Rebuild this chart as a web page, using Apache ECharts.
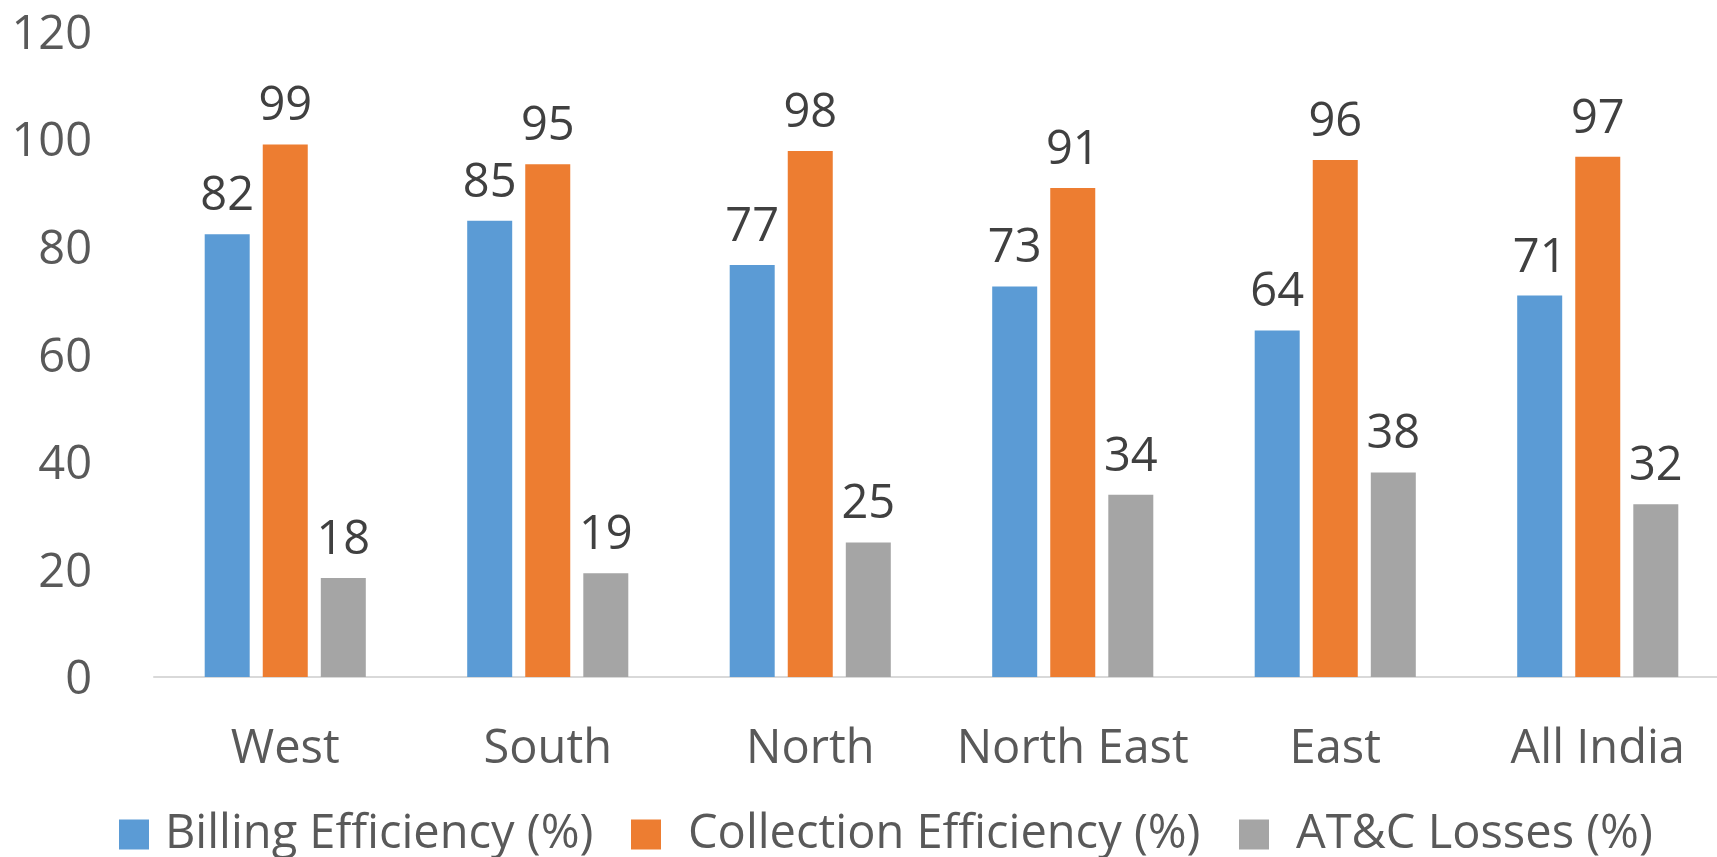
<!DOCTYPE html>
<html>
<head>
<meta charset="utf-8">
<script src="https://cdn.jsdelivr.net/npm/echarts@6/dist/echarts.min.js"></script>
<style>html,body{margin:0;padding:0;background:#fff}#c{width:1717px;height:857px}</style>
</head>
<body>
<div id="c"></div>
<script>
const categories = ['West', 'South', 'North', 'North East', 'East', 'All India'];
const billing = [82.3, 84.8, 76.6, 72.6, 64.4, 70.9];
const collection = [99.0, 95.3, 97.8, 90.9, 96.1, 96.7];
const losses = [18.4, 19.3, 25.0, 33.9, 38.0, 32.1];
const yTicks = [0, 20, 40, 60, 80, 100, 120];
const seriesNames = ['Billing Efficiency (%)', 'Collection Efficiency (%)', 'AT&C Losses (%)'];
const colors = ['#5B9BD5', '#ED7D31', '#A5A5A5'];

const font = 'Open Sans';
const labelStyle = {
  show: true, position: 'top', distance: 14,
  fontFamily: font, fontSize: 47, color: '#404040',
  formatter: p => Math.round(p.value)
};
const legendLefts = [119, 631, 1239];
const legendTextPad = [11, 22, 22];
const legends = seriesNames.map((n, i) => ({
  left: legendLefts[i], top: 811, padding: 0,
  itemWidth: 30, itemHeight: 30, icon: 'rect',
  textStyle: { fontFamily: font, fontSize: 47, color: '#595959', padding: [0, 0, 0, legendTextPad[i]] },
  data: [n]
}));
const chart = echarts.init(document.getElementById('c'));
chart.setOption({
  animation: false,
  color: colors,
  grid: { left: 154, right: -12, top: 31.5, bottom: 180, outerBoundsMode: 'none', containLabel: false },
  legend: legends,
  xAxis: {
    type: 'category', data: categories,
    axisLine: { lineStyle: { color: '#D9D9D9', width: 2 } },
    axisTick: { show: false },
    axisLabel: { interval: 0, fontFamily: font, fontSize: 47, color: '#595959', margin: 49 }
  },
  yAxis: {
    type: 'value', min: yTicks[0], max: yTicks[yTicks.length - 1], interval: 20,
    splitLine: { show: false },
    axisLine: { show: false }, axisTick: { show: false },
    axisLabel: { fontFamily: font, fontSize: 47, color: '#595959', margin: 62, verticalAlign: 'top', lineHeight: 8 }
  },
  series: [
    { name: seriesNames[0], type: 'bar', data: billing, barWidth: 45, barGap: '29%',
      itemStyle: { color: colors[0] }, label: labelStyle },
    { name: seriesNames[1], type: 'bar', data: collection, barWidth: 45, barGap: '29%',
      itemStyle: { color: colors[1] }, label: labelStyle },
    { name: seriesNames[2], type: 'bar', data: losses, barWidth: 45, barGap: '29%',
      itemStyle: { color: colors[2] }, label: labelStyle }
  ]
});
</script>
</body>
</html>
